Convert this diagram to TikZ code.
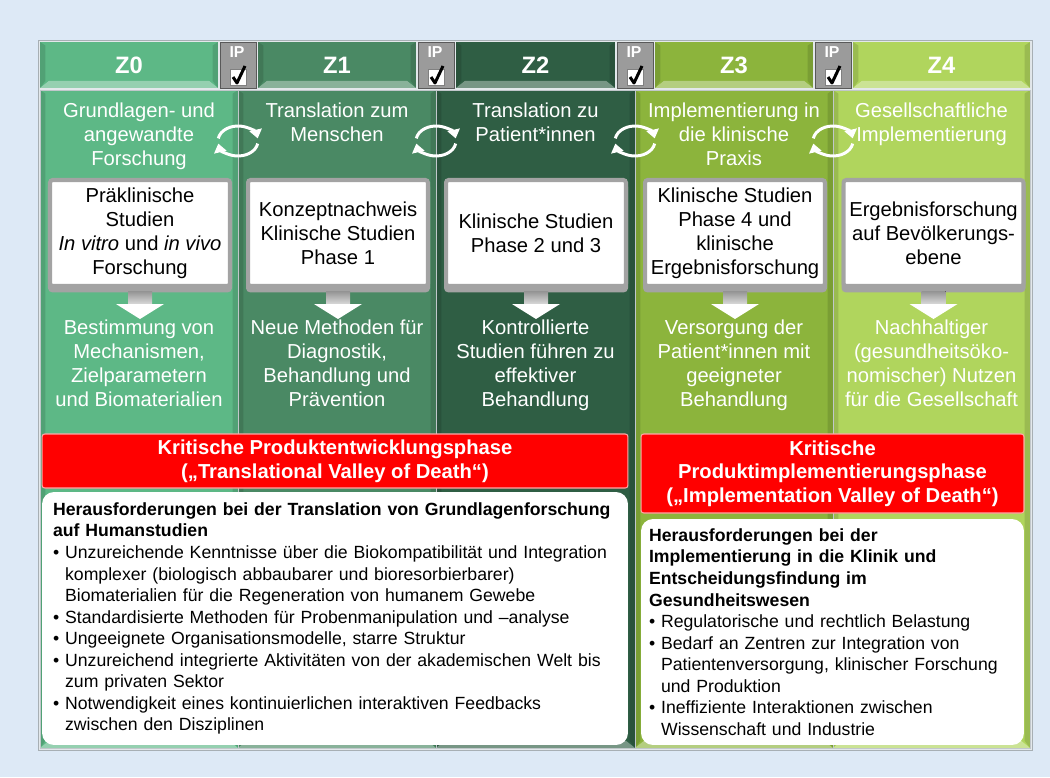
\documentclass[tikz,border=0pt]{standalone}
\usepackage{fontspec}
\setmainfont{Liberation Sans}
\usetikzlibrary{arrows.meta,calc}

\definecolor{bgblue}{HTML}{DDE9F6}
\definecolor{framegray}{HTML}{A7AFB4}
\definecolor{framefill}{HTML}{E3E8EB}
\definecolor{zgreen0}{HTML}{5DB886}
\definecolor{zgreen1}{HTML}{4A8964}
\definecolor{zgreen2}{HTML}{2F5E44}
\definecolor{zgreen3}{HTML}{8CB43C}
\definecolor{zgreen4}{HTML}{B0D55D}
\definecolor{ipgray}{HTML}{9B9B9B}
\definecolor{bevelgray}{HTML}{A3A3A3}
\definecolor{valleyred}{HTML}{FF0000}

\tikzset{
  bevel/.style={path picture={
      \fill[white,opacity=.35] (path picture bounding box.south west) -- (path picture bounding box.south east)
        -- ([shift={(-5pt,4pt)}]path picture bounding box.south east) -- ([shift={(5pt,4pt)}]path picture bounding box.south west) -- cycle;
      \fill[black,opacity=.12] (path picture bounding box.south west) -- (path picture bounding box.north west)
        -- ([shift={(3pt,-2pt)}]path picture bounding box.north west) -- ([shift={(3pt,4pt)}]path picture bounding box.south west) -- cycle;
      \fill[black,opacity=.12] (path picture bounding box.south east) -- (path picture bounding box.north east)
        -- ([shift={(-3pt,-2pt)}]path picture bounding box.north east) -- ([shift={(-3pt,4pt)}]path picture bounding box.south east) -- cycle;}},
  colbody/.style={bevel, draw=framegray!70, line width=.5pt, minimum height=13.16cm, inner sep=0},
  zhead/.style={bevel, minimum height=0.92cm, inner sep=0, text=white, font=\fontsize{13.5}{16}\selectfont\bfseries},
  ipbox/.style={fill=ipgray, draw=gray!70!black, line width=.4pt, minimum width=0.72cm, minimum height=0.92cm, inner sep=0},
  iptext/.style={text=white, inner sep=0, font=\fontsize{9}{9}\selectfont\bfseries},
  checkbox/.style={fill=white, draw=gray, line width=.5pt, minimum size=0.32cm, inner sep=0},
  checkmark/.style={line width=1.7pt, line join=round},
  steptext/.style={text=white, align=center, inner sep=0, font=\fontsize{11.5}{13.66}\selectfont},
  studybox/.style={fill=white, draw=bevelgray, line width=2.3pt, rounded corners=1.5pt,
    minimum width=3.6cm, minimum height=2.12cm, inner sep=0, align=center, font=\fontsize{11.5}{13.66}\selectfont,
    preaction={fill=bevelgray, draw=bevelgray, transform canvas={yshift=-2.5pt}}},
  cyclearrow/.style={white, line width=1.7pt, -{Triangle[length=5pt,width=7pt]}},
  stem/.style={top color=gray!85, bottom color=gray!30},
  valley/.style={fill=valleyred, draw=red!35, line width=.6pt, rounded corners=1.5pt, text=white,
    align=center, inner sep=0, font=\fontsize{11.5}{13.4}\selectfont\bfseries},
  challenge/.style={fill=white, rounded corners=6.8pt, align=left, inner ysep=0, font=\fontsize{10.05}{12.25}\selectfont}
}

\begin{document}
\begin{tikzpicture}[x=0.02cm, y=-0.02cm]
  \fill[bgblue] (0,0) rectangle (1050,777);
  \useasboundingbox (0,0) rectangle (1050,777);
  \draw[framegray, fill=framefill] (38,40) rectangle (1032,750);

  \node[colbody, fill=zgreen0, minimum width=3.96cm] (k0) at (139,419) {};
  \node[colbody, fill=zgreen1, minimum width=3.96cm] (k1) at (337,419) {};
  \node[colbody, fill=zgreen2, minimum width=3.98cm] (k2) at (535.5,419) {};
  \node[colbody, fill=zgreen3, minimum width=3.96cm] (k3) at (734,419) {};
  \node[colbody, fill=zgreen4, minimum width=3.94cm] (k4) at (931.5,419) {};

  \node[zhead, fill=zgreen0, minimum width=3.56cm] (z0) at (129,65) {Z0};
  \node[zhead, fill=zgreen1, minimum width=3.16cm] (z1) at (337,65) {Z1};
  \node[zhead, fill=zgreen2, minimum width=3.18cm] (z2) at (535.5,65) {Z2};
  \node[zhead, fill=zgreen3, minimum width=3.16cm] (z3) at (734,65) {Z3};
  \node[zhead, fill=zgreen4, minimum width=3.54cm] (z4) at (941.5,65) {Z4};

  \node[ipbox] (ip0) at (238,65) {};
  \node[ipbox] (ip1) at (436,65) {};
  \node[ipbox] (ip2) at (635,65) {};
  \node[ipbox] (ip3) at (833,65) {};
  \node[iptext] at ($(ip0)+(-1,-13)$) {IP};
  \node[iptext] at ($(ip1)+(-1,-13)$) {IP};
  \node[iptext] at ($(ip2)+(-1,-13)$) {IP};
  \node[iptext] at ($(ip3)+(-1,-13)$) {IP};
  \node[checkbox] (cb0) at ($(ip0)+(0,12)$) {};
  \node[checkbox] (cb1) at ($(ip1)+(0,12)$) {};
  \node[checkbox] (cb2) at ($(ip2)+(0,12)$) {};
  \node[checkbox] (cb3) at ($(ip3)+(0,12)$) {};
  \draw[checkmark] ($(cb0)+(-5,0)$) -- ($(cb0)+(-1,6)$) -- ($(cb0)+(7,-11)$);
  \draw[checkmark] ($(cb1)+(-5,0)$) -- ($(cb1)+(-1,6)$) -- ($(cb1)+(7,-11)$);
  \draw[checkmark] ($(cb2)+(-5,0)$) -- ($(cb2)+(-1,6)$) -- ($(cb2)+(7,-11)$);
  \draw[checkmark] ($(cb3)+(-5,0)$) -- ($(cb3)+(-1,6)$) -- ($(cb3)+(7,-11)$);

  \node[steptext, anchor=north] (t0) at (139,103) {Grundlagen- und\\angewandte\\Forschung};
  \node[steptext, anchor=north] (t1) at (337,103) {Translation zum\\Menschen};
  \node[steptext, anchor=north] (t2) at (535.5,103) {Translation zu\\Patient*innen};
  \node[steptext, anchor=north] (t3) at (734,103) {Implementierung in\\die klinische\\Praxis};
  \node[steptext, anchor=north] (t4) at (931.5,103) {Gesellschaftliche\\Implementierung};

  \coordinate (s01) at (238,141);
  \coordinate (s12) at (436,141);
  \coordinate (s23) at (635,141);
  \coordinate (s34) at (833,141);
  \draw[cyclearrow] (s01) ++(190:20 and 15) arc[start angle=190, end angle=350, x radius=20, y radius=15];
  \draw[cyclearrow] (s01) ++(10:20 and 15) arc[start angle=10, end angle=170, x radius=20, y radius=15];
  \draw[cyclearrow] (s12) ++(190:20 and 15) arc[start angle=190, end angle=350, x radius=20, y radius=15];
  \draw[cyclearrow] (s12) ++(10:20 and 15) arc[start angle=10, end angle=170, x radius=20, y radius=15];
  \draw[cyclearrow] (s23) ++(190:20 and 15) arc[start angle=190, end angle=350, x radius=20, y radius=15];
  \draw[cyclearrow] (s23) ++(10:20 and 15) arc[start angle=10, end angle=170, x radius=20, y radius=15];
  \draw[cyclearrow] (s34) ++(190:20 and 15) arc[start angle=190, end angle=350, x radius=20, y radius=15];
  \draw[cyclearrow] (s34) ++(10:20 and 15) arc[start angle=10, end angle=170, x radius=20, y radius=15];

  \node[studybox] (b0) at (140,233) {Präklinische\\Studien\\\textit{In vitro} und \textit{in vivo}\\Forschung};
  \node[studybox] (b1) at (338,233) {Konzeptnachweis\\Klinische Studien\\Phase 1};
  \node[studybox] (b2) at (536,233) {Klinische Studien\\Phase 2 und 3};
  \node[studybox] (b3) at (735,233) {Klinische Studien\\Phase 4 und\\klinische\\Ergebnisforschung};
  \node[studybox] (b4) at (933.5,233) {Ergebnisforschung\\auf Bevölkerungs-\\ebene};

  \node[steptext, anchor=north] (o0) at (139,320) {Bestimmung von\\Mechanismen,\\Zielparametern\\und Biomaterialien};
  \node[steptext, anchor=north] (o1) at (337,320) {Neue Methoden für\\Diagnostik,\\Behandlung und\\Prävention};
  \node[steptext, anchor=north] (o2) at (535.5,320) {Kontrollierte\\Studien führen zu\\effektiver\\Behandlung};
  \node[steptext, anchor=north] (o3) at (734,320) {Versorgung der\\Patient*innen mit\\geeigneter\\Behandlung};
  \node[steptext, anchor=north] (o4) at (931.5,320) {Nachhaltiger\\(gesundheitsöko-\\nomischer) Nutzen\\für die Gesellschaft};

  \fill[stem] ($(b0.south)+(-12,3)$) rectangle ($(b0.south)+(12,16)$);
  \fill[white] ($(b0.south)+(-24,16)$) -- ($(b0.south)+(24,16)$) -- ($(b0.south)+(0,31)$) -- cycle;
  \fill[stem] ($(b1.south)+(-12,3)$) rectangle ($(b1.south)+(12,16)$);
  \fill[white] ($(b1.south)+(-24,16)$) -- ($(b1.south)+(24,16)$) -- ($(b1.south)+(0,31)$) -- cycle;
  \fill[stem] ($(b2.south)+(-12,3)$) rectangle ($(b2.south)+(12,16)$);
  \fill[white] ($(b2.south)+(-24,16)$) -- ($(b2.south)+(24,16)$) -- ($(b2.south)+(0,31)$) -- cycle;
  \fill[stem] ($(b3.south)+(-12,3)$) rectangle ($(b3.south)+(12,16)$);
  \fill[white] ($(b3.south)+(-24,16)$) -- ($(b3.south)+(24,16)$) -- ($(b3.south)+(0,31)$) -- cycle;
  \fill[stem] ($(b4.south)+(-12,3)$) rectangle ($(b4.south)+(12,16)$);
  \fill[white] ($(b4.south)+(-24,16)$) -- ($(b4.south)+(24,16)$) -- ($(b4.south)+(0,31)$) -- cycle;

  \node[valley, minimum width=11.72cm, minimum height=1.08cm] (r0) at (335,461)
    {Kritische Produktentwicklungsphase\\(„Translational Valley of Death“)};
  \node[valley, minimum width=7.66cm, minimum height=1.58cm] (r1) at (832.5,473.5)
    {Kritische\\Produktimplementierungsphase\\(„Implementation Valley of Death“)};

  \node[challenge, text width=11.28cm, inner xsep=0.22cm, minimum height=5.06cm] (h0) at (335,618.5) {%
    \textbf{Herausforderungen bei der Translation von Grundlagenforschung}\\
    \textbf{auf Humanstudien}\\
    \textbullet\ Unzureichende Kenntnisse über die Biokompatibilität und Integration\\
    \phantom{\textbullet\ }komplexer (biologisch abbaubarer und bioresorbierbarer)\\
    \phantom{\textbullet\ }Biomaterialien für die Regeneration von humanem Gewebe\\
    \textbullet\ Standardisierte Methoden für Probenmanipulation und –analyse\\
    \textbullet\ Ungeeignete Organisationsmodelle, starre Struktur\\
    \textbullet\ Unzureichend integrierte Aktivitäten von der akademischen Welt bis\\
    \phantom{\textbullet\ }zum privaten Sektor\\
    \textbullet\ Notwendigkeit eines kontinuierlichen interaktiven Feedbacks\\
    \phantom{\textbullet\ }zwischen den Disziplinen};
  \node[challenge, text width=7.34cm, inner xsep=0.16cm, minimum height=4.52cm] (h1) at (832.5,632) {%
    \textbf{Herausforderungen bei der}\\
    \textbf{Implementierung in die Klinik und}\\
    \textbf{Entscheidungsfindung im}\\
    \textbf{Gesundheitswesen}\\
    \textbullet\ Regulatorische und rechtlich Belastung\\
    \textbullet\ Bedarf an Zentren zur Integration von\\
    \phantom{\textbullet\ }Patientenversorgung, klinischer Forschung\\
    \phantom{\textbullet\ }und Produktion\\
    \textbullet\ Ineffiziente Interaktionen zwischen\\
    \phantom{\textbullet\ }Wissenschaft und Industrie};
\end{tikzpicture}
\end{document}
